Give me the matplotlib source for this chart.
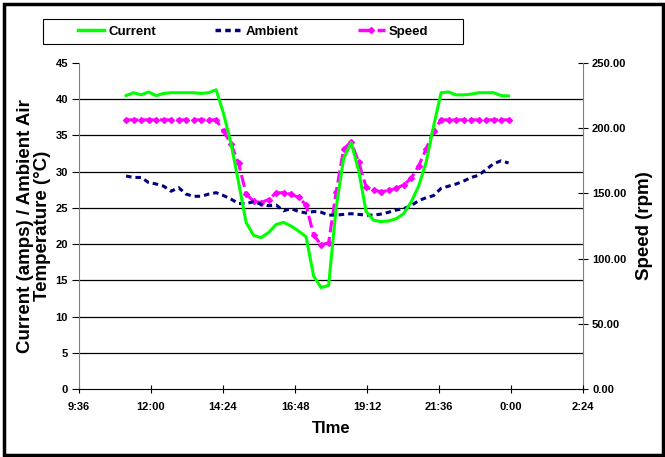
import numpy as np
import matplotlib.pyplot as plt
from matplotlib.patches import Rectangle
from matplotlib.lines import Line2D

plt.rcParams['font.family'] = 'Liberation Sans'
plt.rcParams['font.weight'] = 'bold'

# time of day in hours, one reading every 15 min from 11:10
hours = [11.17 + 0.25 * i for i in range(52)]

current = [40.5, 40.9, 40.6, 41.0, 40.5, 40.8, 40.9, 40.9, 40.9, 40.9,
           40.8, 40.9, 41.3, 38.0, 33.8, 28.5, 23.0, 21.2, 20.9, 21.6,
           22.7, 23.0, 22.5, 21.8, 21.0, 15.6, 14.0, 14.3, 25.0, 31.8,
           34.0, 30.2, 24.5, 23.3, 23.1, 23.2, 23.5, 24.2, 25.8, 28.0,
           31.3, 36.3, 40.9, 41.0, 40.6, 40.6, 40.7, 40.9, 40.9, 40.9,
           40.5, 40.45]

ambient = [29.4, 29.2, 29.2, 28.5, 28.3, 28.0, 27.3, 27.8, 26.9, 26.6,
           26.6, 26.9, 27.1, 26.7, 26.2, 25.6, 25.6, 25.85, 25.5, 25.3,
           25.4, 24.6, 24.9, 24.5, 24.3, 24.5, 24.4, 24.0, 24.0, 24.1,
           24.2, 24.1, 24.0, 24.0, 24.15, 24.4, 24.7, 24.9, 25.3, 26.0,
           26.4, 26.7, 27.7, 28.0, 28.3, 28.7, 29.2, 29.5, 30.3, 31.1,
           31.5, 31.2]

speed = [206.4, 206.4, 206.4, 206.4, 206.4, 206.4, 206.4, 206.4, 206.4, 206.4,
         206.4, 206.4, 206.4, 197.5, 188.0, 173.0, 149.5, 144.0, 143.0, 145.3,
         150.5, 150.5, 149.3, 147.0, 141.0, 118.0, 110.7, 112.0, 151.0, 184.0,
         189.5, 174.0, 155.0, 152.5, 151.3, 152.3, 153.8, 156.5, 161.5, 171.0,
         184.0, 198.0, 206.4, 206.4, 206.4, 206.4, 206.4, 206.4, 206.4, 206.4,
         206.4, 206.4]

xticks = [9.6, 12.0, 14.4, 16.8, 19.2, 21.6, 24.0, 26.4]
xlabels = ['9:36', '12:00', '14:24', '16:48', '19:12', '21:36', '0:00', '2:24']

fig = plt.figure(figsize=(6.65, 4.57), dpi=100)
ax = fig.add_axes([79/665, 68/457, 504/665, 326/457])
ax2 = ax.twinx()

green = '#00ff00'
navy = '#000080'
magenta = '#ff00ff'

ax2.plot(hours, speed, color=magenta, lw=2.2, ls=(0, (4, 1.5)),
         marker='D', ms=3, mec=magenta)
ax.plot(hours, ambient, color=navy, lw=2.2, ls=(0, (1.8, 1.3)))
ax.plot(hours, current, color=green, lw=2.2)

ax.set_zorder(ax2.get_zorder() + 1)
ax.patch.set_visible(False)

ax.set_xlim(9.6, 26.4)
ax.set_xticks(xticks)
ax.set_xticklabels(xlabels)
ax.set_ylim(0, 45)
ax.set_yticks(range(0, 46, 5))
ax2.set_ylim(0, 250)
ax2.set_yticks(range(0, 251, 50))
ax2.set_yticklabels(['%.2f' % v for v in range(0, 251, 50)])

# horizontal gridlines every 5 units of the left axis, kept under all lines
ax2.set_yticks(np.arange(1, 10) * 250 / 9, minor=True)
ax2.grid(which='minor', axis='y', color='black', lw=0.9)
ax2.tick_params(which='minor', length=0)

for a in (ax, ax2):
    a.spines['top'].set_visible(False)
ax.spines['right'].set_visible(False)
ax2.spines['left'].set_visible(False)
ax2.spines['bottom'].set_visible(False)
ax.spines['left'].set_color('#808080')
ax2.spines['right'].set_color('#808080')
ax.spines['bottom'].set_color('black')

ax.tick_params(axis='y', direction='out', length=5, labelsize=8, pad=3)
ax.tick_params(axis='x', direction='inout', length=6, labelsize=8, pad=6)
ax2.tick_params(axis='y', which='major', direction='inout', length=7, labelsize=8, pad=3)

ax.set_xlabel('TIme', fontsize=12, fontweight='bold', labelpad=7)
ax.set_ylabel('Current (amps) / Ambient Air\nTemperature (°C)', fontsize=13.5,
              fontweight='bold', labelpad=3, linespacing=1.05)
ax2.set_ylabel('Speed (rpm)', fontsize=13.5, fontweight='bold', labelpad=7)

handles = [Line2D([], [], color=green, lw=2.5),
           Line2D([], [], color=navy, lw=2.5, ls=(0, (1.6, 1.2))),
           Line2D([], [], color=magenta, lw=2.5, ls=(0, (4, 1.5)), marker='D', ms=3)]
leg = fig.legend(handles, ['Current', 'Ambient', 'Speed'], ncol=3,
                 loc='center', bbox_to_anchor=(43/665, 1 - 44/457, 420/665, 25/457),
                 frameon=False, fontsize=9.5,
                 handlelength=2.0, handletextpad=0.3, columnspacing=4.5,
                 borderaxespad=0, borderpad=0.35)
for t in leg.get_texts():
    t.set_fontweight('bold')

# legend frame and outer chart border
fig.add_artist(Rectangle((43/665, 1 - 44/457), 420/665, 25/457, transform=fig.transFigure,
                         fill=False, edgecolor='black', lw=0.8))
fig.add_artist(Rectangle((3.5/665, 2/457), 659/665, 451/457, transform=fig.transFigure,
                         fill=False, edgecolor='black', lw=2.5))

fig.savefig('out.png', dpi=100)
